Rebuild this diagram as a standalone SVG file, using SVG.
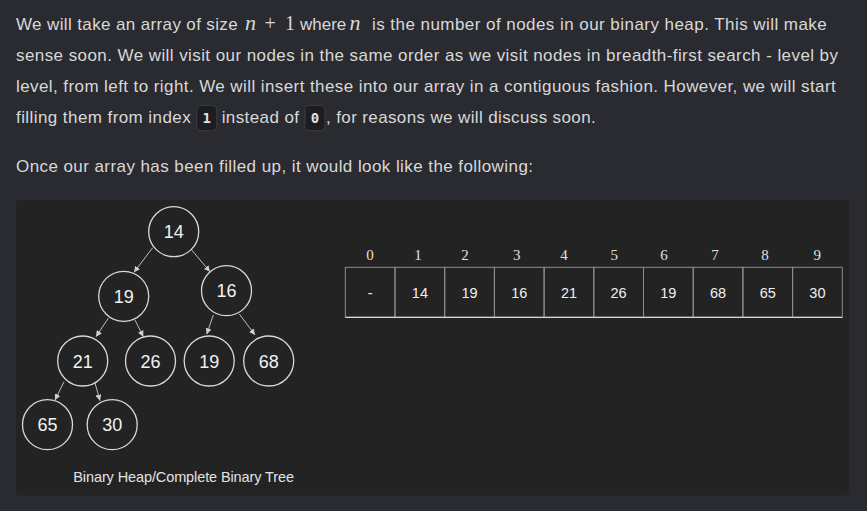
<svg xmlns="http://www.w3.org/2000/svg" width="867" height="511" viewBox="0 0 867 511">
<defs>
<marker id="ah" markerUnits="userSpaceOnUse" markerWidth="6" markerHeight="6" refX="6" refY="3" orient="auto">
<path d="M0,0 L6,3 L0,6 z" fill="#d0d0d0"/>
</marker>
<style>
.p{font-family:"Liberation Sans",Arial,sans-serif;font-size:17px;fill:#d8d8d8}
.m{font-family:"Liberation Serif","Times New Roman",serif;font-size:20px;fill:#d8d8d8}
.mi{font-style:italic;font-size:22px}
.code{fill:#1c1d20;stroke:#3c3d42;stroke-width:1}
.ct{font-family:"DejaVu Sans Mono","Liberation Mono",monospace;font-size:14px;font-weight:bold;fill:#e0e0e0;text-anchor:middle}
.node circle{fill:#232323;stroke:#d8d8d8;stroke-width:1.3}
.node text{font-family:"Liberation Sans",Arial,sans-serif;font-size:18px;fill:#f2f2f2;text-anchor:middle}
.edge{stroke:#cfcfcf;stroke-width:0.9;fill:none;marker-end:url(#ah)}
.idx{font-family:"Liberation Serif","Times New Roman",serif;font-size:15px;fill:#e0e0e0;text-anchor:middle}
.cell{fill:none;stroke:#8c8c8c;stroke-width:1}
.val{font-family:"Liberation Sans",Arial,sans-serif;font-size:14.5px;fill:#f0f0f0;text-anchor:middle}
</style>
</defs>
<rect x="0" y="0" width="867" height="511" fill="#2a2b30"/>

<g id="paragraph">
<text class="p" x="16" y="30" textLength="221.7" lengthAdjust="spacing">We will take an array of size</text>
<text class="m mi" x="245" y="30">n</text>
<text class="m" x="264.5" y="30">+</text>
<text class="m" x="285" y="30">1</text>
<text class="p" x="300" y="30">where</text>
<text class="m mi" x="349.5" y="30">n</text>
<text class="p" x="372" y="30" textLength="454.7" lengthAdjust="spacing">is the number of nodes in our binary heap. This will make</text>
<text class="p" x="16" y="61" textLength="822" lengthAdjust="spacing">sense soon. We will visit our nodes in the same order as we visit nodes in breadth-first search - level by</text>
<text class="p" x="16" y="92" textLength="819.7" lengthAdjust="spacing">level, from left to right. We will insert these into our array in a contiguous fashion. However, we will start</text>
<text class="p" x="16" y="123" textLength="174.7" lengthAdjust="spacing">filling them from index</text>
<rect class="code" x="196.7" y="105.3" width="20" height="25.4" rx="4"/>
<text class="ct" x="206.7" y="123">1</text>
<text class="p" x="221.7" y="123" textLength="77.3" lengthAdjust="spacing">instead of</text>
<rect class="code" x="305" y="105.3" width="20" height="25.4" rx="4"/>
<text class="ct" x="315" y="123">0</text>
<text class="p" x="326" y="123" textLength="269.7" lengthAdjust="spacing">, for reasons we will discuss soon.</text>
<text class="p" x="16" y="172" textLength="517" lengthAdjust="spacing">Once our array has been filled up, it would look like the following:</text>
</g>

<rect id="panel" x="16" y="200" width="833" height="295.5" rx="4" fill="#232323"/>

<g id="connectors">
<line class="edge" x1="152.7" y1="247.7" x2="134" y2="272.3"/>
<line class="edge" x1="191.7" y1="250" x2="210" y2="271.7"/>
<line class="edge" x1="108.3" y1="318.3" x2="96" y2="336.7"/>
<line class="edge" x1="135" y1="320" x2="143.3" y2="336.7"/>
<line class="edge" x1="213.3" y1="315" x2="206.7" y2="334.3"/>
<line class="edge" x1="239.3" y1="314" x2="255" y2="335"/>
<line class="edge" x1="64" y1="381.7" x2="55" y2="400"/>
<line class="edge" x1="95" y1="383" x2="100" y2="400.7"/>
</g>

<g id="n1" class="node"><circle cx="173.7" cy="231.7" r="25"/><text x="173.7" y="238.3">14</text></g>
<g id="n2" class="node"><circle cx="123.7" cy="296.3" r="25"/><text x="123.7" y="302.9">19</text></g>
<g id="n3" class="node"><circle cx="226.5" cy="290.7" r="25"/><text x="226.5" y="297.3">16</text></g>
<g id="n4" class="node"><circle cx="82.7" cy="361" r="25"/><text x="82.7" y="367.6">21</text></g>
<g id="n5" class="node"><circle cx="150.5" cy="361" r="25"/><text x="150.5" y="367.6">26</text></g>
<g id="n6" class="node"><circle cx="209.2" cy="361" r="25"/><text x="209.2" y="367.6">19</text></g>
<g id="n7" class="node"><circle cx="268.7" cy="361" r="25"/><text x="268.7" y="367.6">68</text></g>
<g id="n8" class="node"><circle cx="47.5" cy="424.7" r="25"/><text x="47.5" y="431.3">65</text></g>
<g id="n9" class="node"><circle cx="112.2" cy="424.7" r="25"/><text x="112.2" y="431.3">30</text></g>

<text id="caption" x="73.3" y="481.7" font-family="'Liberation Sans',Arial,sans-serif" font-size="14.5" fill="#e2e2e2" textLength="220.7" lengthAdjust="spacing">Binary Heap/Complete Binary Tree</text>

<g id="array">
<g id="indices">
<text class="idx" x="370" y="260">0</text>
<text class="idx" x="418" y="260">1</text>
<text class="idx" x="465" y="260">2</text>
<text class="idx" x="516.7" y="260">3</text>
<text class="idx" x="564" y="260">4</text>
<text class="idx" x="614.3" y="260">5</text>
<text class="idx" x="664" y="260">6</text>
<text class="idx" x="715" y="260">7</text>
<text class="idx" x="765" y="260">8</text>
<text class="idx" x="817.3" y="260">9</text>
</g>
<g id="cells">
<rect class="cell" x="345.3" y="267.3" width="49.7" height="50"/>
<rect class="cell" x="395" y="267.3" width="49.7" height="50"/>
<rect class="cell" x="444.7" y="267.3" width="49.7" height="50"/>
<rect class="cell" x="494.4" y="267.3" width="49.7" height="50"/>
<rect class="cell" x="544.1" y="267.3" width="49.7" height="50"/>
<rect class="cell" x="593.8" y="267.3" width="49.7" height="50"/>
<rect class="cell" x="643.5" y="267.3" width="49.7" height="50"/>
<rect class="cell" x="693.2" y="267.3" width="49.7" height="50"/>
<rect class="cell" x="742.9" y="267.3" width="49.7" height="50"/>
<rect class="cell" x="792.6" y="267.3" width="49.7" height="50"/>
<line x1="345.3" y1="317.3" x2="842.3" y2="317.3" stroke="#d8d8d8" stroke-width="1.3"/>
<text class="val" x="370.2" y="297.5">-</text>
<text class="val" x="419.9" y="297.5">14</text>
<text class="val" x="469.6" y="297.5">19</text>
<text class="val" x="519.3" y="297.5">16</text>
<text class="val" x="569" y="297.5">21</text>
<text class="val" x="618.6" y="297.5">26</text>
<text class="val" x="668.3" y="297.5">19</text>
<text class="val" x="718" y="297.5">68</text>
<text class="val" x="767.7" y="297.5">65</text>
<text class="val" x="817.4" y="297.5">30</text>
</g>
</g>
</svg>
